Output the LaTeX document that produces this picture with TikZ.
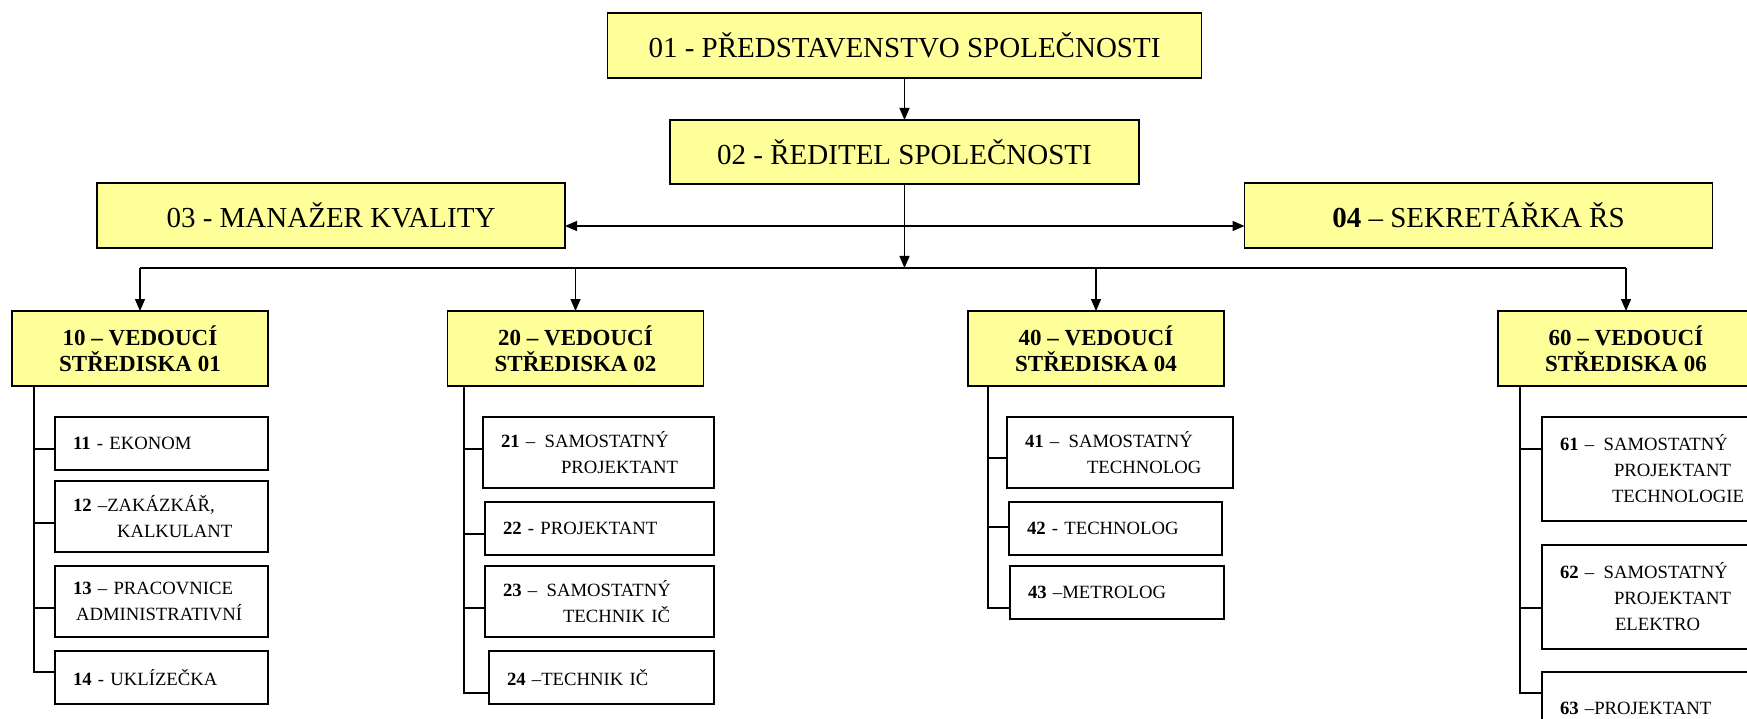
\documentclass[tikz,border=0pt]{standalone}
\usepackage{fontspec}
\setmainfont{Liberation Serif}
\usetikzlibrary{arrows.meta}
\definecolor{boxyellow}{HTML}{FFFF99}
\newcommand{\indentby}[1]{\leavevmode\kern#1\relax}
\begin{document}
\begin{tikzpicture}[x=1pt,y=-1pt,
  lvlone/.style={draw=black, line width=1.2pt, fill=boxyellow, inner sep=0pt, outer sep=0pt,
    font=\fontsize{29}{34}\selectfont, align=center},
  lvltwo/.style={draw=black, line width=1.2pt, fill=boxyellow, inner sep=0pt, outer sep=0pt,
    minimum width=256pt, minimum height=75pt, font=\bfseries\fontsize{23}{26}\selectfont, align=center},
  lvlthree/.style={draw=black, line width=1.2pt, fill=white, inner xsep=18pt, inner ysep=0pt, outer sep=0pt,
    font=\fontsize{18.7}{26}\selectfont, align=left},
  conn/.style={line width=1.3pt},
  arr/.style={conn, -{Triangle[length=12pt,width=10pt]}},
  biarr/.style={conn, {Triangle[length=12pt,width=10pt]}-{Triangle[length=12pt,width=10pt]}}
]
\useasboundingbox (0,0) rectangle (1747,719);
\clip (0,0) rectangle (1747,719);

% top level
\node[lvlone, minimum width=594pt, minimum height=65pt] (b01) at (904.5,45.5) {01 - PŘEDSTAVENSTVO SPOLEČNOSTI};
\node[lvlone, minimum width=469pt, minimum height=64pt] (b02) at (904.5,152) {02 - ŘEDITEL SPOLEČNOSTI};
\node[lvlone, minimum width=468pt, minimum height=65pt] (b03) at (331,215.5) {03 - MANAŽER KVALITY};
\node[lvlone, minimum width=468pt, minimum height=65pt] (b04) at (1478.5,215.5) {\textbf{04} – SEKRETÁŘKA ŘS};

% level two
\node[lvltwo] (b10) at (140,348.5) {10 – VEDOUCÍ\\STŘEDISKA 01};
\node[lvltwo] (b20) at (575.5,348.5) {20 – VEDOUCÍ\\STŘEDISKA 02};
\node[lvltwo] (b40) at (1096,348.5) {40 – VEDOUCÍ\\STŘEDISKA 04};
\node[lvltwo] (b60) at (1626,348.5) {60 – VEDOUCÍ\\STŘEDISKA 06};

% level three: group 10
\node[lvlthree, text width=177pt, minimum height=53pt] (c11) at (161.5,443.5) {\textbf{11} - EKONOM};
\node[lvlthree, text width=177pt, minimum height=71pt] (c12) at (161.5,516.5) {\textbf{12} –ZAKÁZKÁŘ,\\\indentby{44pt}KALKULANT};
\node[lvlthree, text width=177pt, minimum height=71pt] (c13) at (161.5,601.5) {\textbf{13} – PRACOVNICE\\\indentby{3pt}ADMINISTRATIVNÍ};
\node[lvlthree, text width=177pt, minimum height=53pt] (c14) at (161.5,677.5) {\textbf{14} - UKLÍZEČKA};

% group 20
\node[lvlthree, text width=195pt, minimum height=71pt] (c21) at (598.5,452.5) {\textbf{21} –\enspace SAMOSTATNÝ\\\indentby{60pt}PROJEKTANT};
\node[lvlthree, text width=193pt, minimum height=53pt] (c22) at (599.5,528.5) {\textbf{22} - PROJEKTANT};
\node[lvlthree, text width=193pt, minimum height=71pt] (c23) at (599.5,601.5) {\textbf{23} –\enspace SAMOSTATNÝ\\\indentby{60pt}TECHNIK IČ};
\node[lvlthree, text width=189pt, minimum height=53pt] (c24) at (601.5,677.5) {\textbf{24} –TECHNIK IČ};

% group 40
\node[lvlthree, text width=190pt, minimum height=71pt] (c41) at (1120,452.5) {\textbf{41} –\enspace SAMOSTATNÝ\\\indentby{62pt}TECHNOLOG};
\node[lvlthree, text width=177pt, minimum height=53pt] (c42) at (1115.5,528.5) {\textbf{42} - TECHNOLOG};
\node[lvlthree, text width=178pt, minimum height=53pt] (c43) at (1117,592.5) {\textbf{43} –METROLOG};

% group 60
\node[lvlthree, text width=192pt, minimum height=104pt] (c61) at (1656,469) {\textbf{61} –\enspace SAMOSTATNÝ\\\indentby{54pt}PROJEKTANT\\\indentby{52pt}TECHNOLOGIE};
\node[lvlthree, text width=192pt, minimum height=104pt] (c62) at (1656,597) {\textbf{62} –\enspace SAMOSTATNÝ\\\indentby{54pt}PROJEKTANT\\\indentby{55pt}ELEKTRO};
\node[lvlthree, text width=192pt, minimum height=73pt] (c63) at (1656,708.5) {\textbf{63} –PROJEKTANT};

% connectors top
\coordinate (bus) at (904.5,268);
\draw[arr] (b01.south) -- (b02.north);
\draw[biarr] ([yshift=-10.5pt]b03.east) -- ([yshift=-10.5pt]b04.west);
\draw[arr] (b02.south) -- (bus);
\draw[conn] (b10.north |- bus) -- (b60.north |- bus);
\foreach \n in {b10,b20,b40,b60} \draw[arr] (\n.north |- bus) -- (\n.north);

% trunks
\coordinate (t10) at (34,386);
\coordinate (t20) at (464,386);
\coordinate (t40) at (988,386);
\coordinate (t60) at (1520,386);

\coordinate (p11) at ([yshift=-5.5pt]c11.west);
\coordinate (p12) at ([yshift=-6.5pt]c12.west);
\coordinate (p13) at ([yshift=-6.5pt]c13.west);
\coordinate (p14) at ([yshift=5.5pt]c14.west);
\coordinate (p21) at ([yshift=3.5pt]c21.west);
\coordinate (p22) at ([yshift=-5.5pt]c22.west);
\coordinate (p23) at ([yshift=-6.5pt]c23.west);
\coordinate (p24) at ([yshift=-15.5pt]c24.west);
\coordinate (p41) at ([yshift=-5.5pt]c41.west);
\coordinate (p42) at ([yshift=1.5pt]c42.west);
\coordinate (p43) at ([yshift=-15.5pt]c43.west);
\coordinate (p61) at ([yshift=20pt]c61.west);
\coordinate (p62) at ([yshift=-11pt]c62.west);
\coordinate (p63) at ([yshift=15.5pt]c63.west);

\draw[conn] (t10) |- (p14);
\foreach \p in {p11,p12,p13} \draw[conn] (t10 |- \p) -- (\p);
\draw[conn] (t20) |- (p24);
\foreach \p in {p21,p22,p23} \draw[conn] (t20 |- \p) -- (\p);
\draw[conn] (t40) |- (p43);
\foreach \p in {p41,p42} \draw[conn] (t40 |- \p) -- (\p);
\draw[conn] (t60) |- (p63);
\foreach \p in {p61,p62} \draw[conn] (t60 |- \p) -- (\p);
\end{tikzpicture}
\end{document}
